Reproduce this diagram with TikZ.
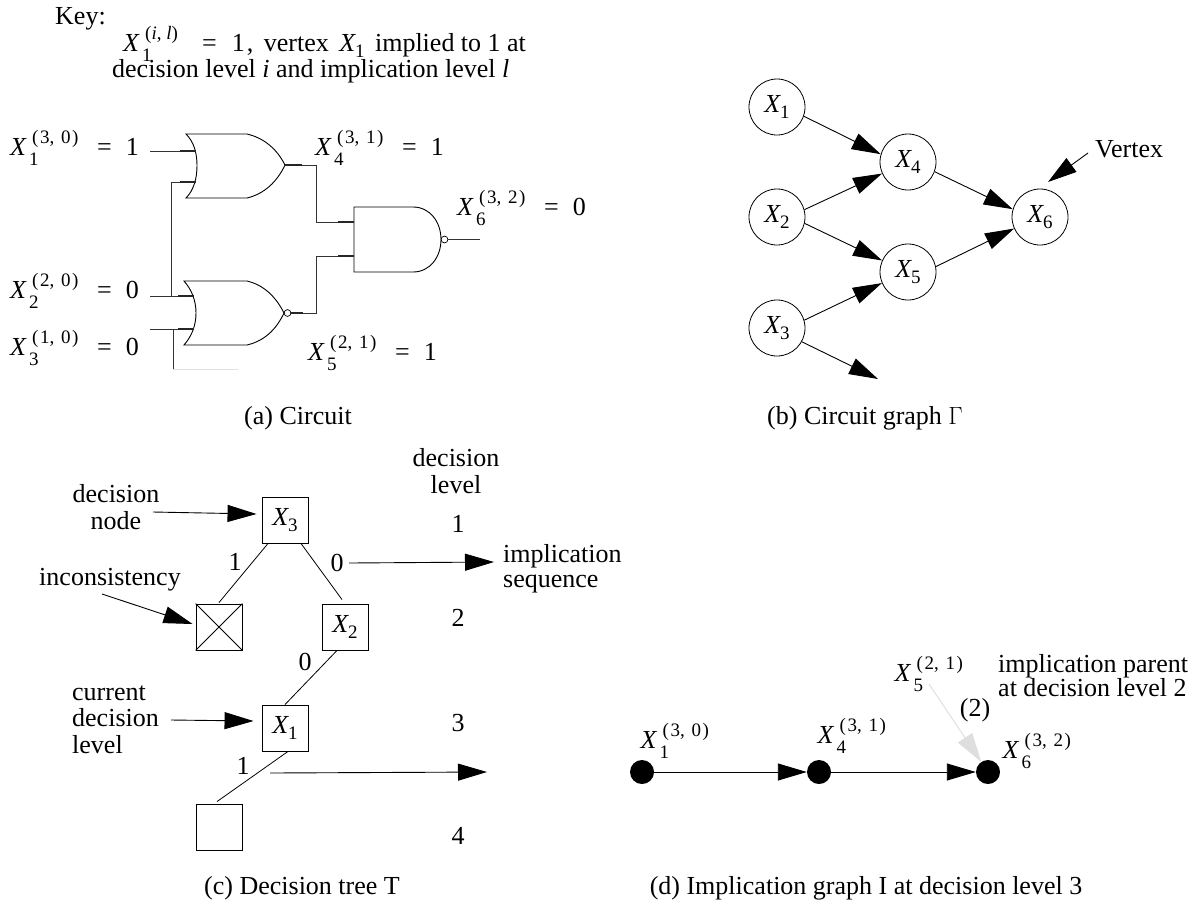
\documentclass[tikz,border=0pt]{standalone}
\usepackage{fontspec}
\setmainfont{Liberation Serif}
\usetikzlibrary{arrows.meta}
\newcommand\smallf{\fontsize{19}{19}\selectfont}
\newcommand\pair[2]{(\kern1.5pt#1, \kern2pt#2\kern1.5pt)}
\newcommand\XS[1]{\textit{X}\kern-1pt\raisebox{-6pt}{\smallf #1}}
\newcommand\XV[2]{\rlap{\textit{X}}\rlap{\kern19pt\raisebox{-10pt}{\smallf #1}}\rlap{\kern22pt\raisebox{12pt}{\smallf #2}}}
\newcommand\XE[3]{\XV{#1}{#2}\kern87pt=\kern14pt #3}
\tikzset{
  txt/.style={inner sep=0pt,font=\fontsize{26}{26}\selectfont,text=black},
  lab/.style={txt,anchor=base west},
  mid/.style={txt,anchor=base},
  stackc/.style={txt,anchor=north,align=center,font=\fontsize{26}{25}\selectfont},
  stackl/.style={txt,anchor=north west,align=left,font=\fontsize{26}{25}\selectfont},
  vert/.style={circle,draw,line width=0.8pt,minimum size=56pt,inner sep=0pt,font=\fontsize{26}{26}\selectfont},
  boxn/.style={rectangle,draw,line width=0.9pt,minimum size=46pt,inner sep=0pt,font=\fontsize{26}{26}\selectfont},
  dot/.style={circle,fill=black,minimum size=24pt,inner sep=0pt},
  arr/.style={line width=0.9pt,-{Triangle[length=29pt,width=17pt]}},
  edge/.style={line width=0.8pt},
  gate/.style={line width=0.9pt},
  wire/.style={line width=0.9pt,black!80},
  stub/.style={line width=1.4pt,black!85},
}
\begin{document}
\begin{tikzpicture}[x=1pt,y=-1pt]
\useasboundingbox (0,0) rectangle (1199,903);
% Key
\node[lab] at (55,24) {Key:};
\node[lab] (keyx) at (123,51) {\XV{1}{(\textit{i}, \textit{l})}\kern79pt=\kern15pt 1\kern2pt, \kern4pt vertex \kern4pt\XS{1} \kern4pt implied to 1 at};
\node[lab] (keyt) at (112,77) {decision level \textit{i} and implication level \textit{l}};
% (a) circuit labels
\node[lab] at (10,155) {\XE{1}{\pair{3}{0}}{1}};
\node[lab] at (315,155) {\XE{4}{\pair{3}{1}}{1}};
\node[lab] at (457,215) {\XE{6}{\pair{3}{2}}{0}};
\node[lab] at (10,298) {\XE{2}{\pair{2}{0}}{0}};
\node[lab] at (10,355) {\XE{3}{\pair{1}{0}}{0}};
\node[lab] at (308,360) {\XE{5}{\pair{2}{1}}{1}};
% gates
\draw[gate] (186,134) .. controls (194,142) and (197,153) .. (197,165.5) .. controls (197,178) and (194,190) .. (186,198)
  -- (247,198) .. controls (264,194) and (277,182) .. (285,165) .. controls (277,149) and (264,138) .. (247,134) -- cycle;
\draw[gate] (184,281) .. controls (192,290) and (196,301) .. (196,313) .. controls (196,325) and (192,336) .. (184,345)
  -- (247,345) .. controls (264,341) and (276,330) .. (284,313) .. controls (276,297) and (264,285) .. (247,281) -- cycle;
\draw[gate] (354,207) -- (413,207) .. controls (430,207) and (441,222) .. (441,239.5) .. controls (441,257) and (430,272) .. (413,272) -- (354,272) -- cycle;
\draw[line width=0.7pt] (287.5,313) circle (3.4);
\draw[line width=0.7pt] (444.5,239.5) circle (3.4);
% wires
\draw[wire] (150,151) -- (196,151);
\draw[wire] (196,182) -- (171,182) -- (171,296);
\draw[wire] (150,296) -- (194,296);
\draw[wire] (150,329) -- (194,329);
\draw[wire] (173,329) -- (173,369);
\draw[line width=0.9pt,black!12] (173,369) -- (238,369);
\draw[wire] (285,165) -- (316,165) -- (316,222) -- (354,222);
\draw[wire] (291,313) -- (316,313) -- (316,256) -- (354,256);
\draw[wire] (448,239.5) -- (480,239.5);
\draw[stub] (180,151) -- (196,151);
\draw[stub] (180,182) -- (196,182);
\draw[stub] (178,296) -- (194,296);
\draw[stub] (178,329) -- (194,329);
\draw[stub] (285,165) -- (302,165);
\draw[stub] (291,313) -- (303,313);
\draw[stub] (338,222) -- (354,222);
\draw[stub] (338,256) -- (354,256);
\node[mid] at (298,424) {(a) Circuit};
% (b) circuit graph
\node[vert] (x1) at (777,107) {\XS{1}};
\node[vert] (x2) at (777,217) {\XS{2}};
\node[vert] (x3) at (777,328) {\XS{3}};
\node[vert] (x4) at (908,162) {\XS{4}};
\node[vert] (x5) at (908,272) {\XS{5}};
\node[vert] (x6) at (1040,217) {\XS{6}};
\coordinate (xfree) at (878,379);
\coordinate (vtip) at (1048,182);
\node[lab] (vtx) at (1095,157) {Vertex};
\draw[arr] (x1.-19) -- (x4.164);
\draw[arr] (x2.15) -- (x4.204);
\draw[arr] (x2.-13) -- (x5.156);
\draw[arr] (x3.16) -- (x5.203);
\draw[arr] (x4.-20) -- (x6.164);
\draw[arr] (x5.11) -- (x6.204);
\draw[arr] (x3.-29) -- (xfree);
\draw[arr] ([xshift=-7pt,yshift=4pt]vtx.base west) -- (vtip);
\node[mid] at (865,424) {(b) Circuit graph \(\Gamma\)};
% (c) decision tree
\node[boxn] (t3) at (285,520) {\XS{3}};
\node[boxn] (tx) at (219,627) {};
\node[boxn] (t2) at (345,627) {\XS{2}};
\node[boxn] (t1) at (285,728) {\XS{1}};
\node[boxn] (t0) at (219,827) {};
\draw[edge] (tx.south west) -- (tx.north east);
\draw[edge] (tx.north west) -- (tx.south east);
\draw[edge] ([xshift=-17pt]t3.south) -- ([yshift=1pt]tx.north);
\draw[edge] ([xshift=16pt]t3.south) -- ([xshift=-3pt,yshift=4pt]t2.north);
\draw[edge] ([xshift=-8pt]t2.south) -- (t1.north);
\draw[edge] ([xshift=3pt]t1.south) -- ([xshift=-2pt,yshift=2pt]t0.north);
\node[stackc] (ldn) at (116,484.5) {\strut decision\\node};
\node[txt,anchor=base] (linc) at (110,585) {inconsistency};
\node[stackl,font=\fontsize{26}{26.5}\selectfont] (lcur) at (72,681.5) {\strut current\\decision\\level};
\node[stackc,font=\fontsize{26}{27}\selectfont] (lvl) at (456,447) {\strut decision\\level};
\node[stackl] (lseq) at (503,544.5) {\strut implication\\sequence};
\coordinate (a1s) at (153,512);
\coordinate (a2s) at (102,594);
\coordinate (a3s) at (171,720);
\coordinate (a4s) at (349,563);
\coordinate (a4e) at (494,562);
\coordinate (a5s) at (270,773);
\coordinate (a5e) at (487,772);
\draw[arr] (a1s) -- ([xshift=-5pt,yshift=6pt]t3.west);
\draw[arr] (a2s) -- ([xshift=-3pt,yshift=3pt]tx.west);
\draw[arr] (a3s) -- ([xshift=-8pt,yshift=7pt]t1.west);
\draw[arr] (a4s) -- (a4e);
\draw[arr] (a5s) -- (a5e);
\node[txt] at (235,562) {1};
\node[txt] at (337,563) {0};
\node[txt] at (305,662) {0};
\node[txt] at (243,766) {1};
\node[txt] at (458,524) {1};
\node[txt] at (458,618) {2};
\node[txt] at (458,723) {3};
\node[txt] at (458,836) {4};
\node[mid] at (302,894) {(c) Decision tree T};
% (d) implication graph
\node[dot] (d1) at (642,772) {};
\node[dot] (d4) at (819,772) {};
\node[dot] (d6) at (988,772) {};
\draw[arr] (d1) -- (d4);
\draw[arr] (d4) -- (d6);
\node[lab] at (640,748) {\XV{1}{\pair{3}{0}}};
\node[lab] at (817,743) {\XV{4}{\pair{3}{1}}};
\node[lab] at (1002,758) {\XV{6}{\pair{3}{2}}};
\node[lab] (d5) at (894,681) {\XV{5}{\pair{2}{1}}};
\coordinate (d5s) at (929,684);
\draw[arr,draw=black!13,fill=black!13] (d5s) -- (d6);
\node[txt] at (975,710) {(2)};
\node[stackl,font=\fontsize{26}{22}\selectfont] at (998,654) {implication parent\\at decision level 2};
\node[mid] at (866,894) {(d) Implication graph I at decision level 3};
\end{tikzpicture}
\end{document}
